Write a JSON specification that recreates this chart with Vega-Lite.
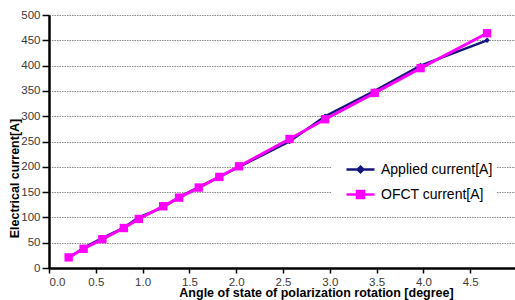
{
  "$schema": "https://vega.github.io/schema/vega-lite/v6.json",
  "width": 468,
  "height": 253,
  "autosize": {"type": "none"},
  "padding": {"left": 49, "top": 15, "right": 0, "bottom": 32},
  "background": "white",
  "config": {
    "font": "Liberation Sans",
    "view": {"stroke": null}
  },
  "data": {
    "values": [
      {"series": "Applied current[A]", "angle": 0.21, "current": 20},
      {"series": "Applied current[A]", "angle": 0.37, "current": 40},
      {"series": "Applied current[A]", "angle": 0.58, "current": 60},
      {"series": "Applied current[A]", "angle": 0.80, "current": 80},
      {"series": "Applied current[A]", "angle": 0.96, "current": 100},
      {"series": "Applied current[A]", "angle": 1.22, "current": 120},
      {"series": "Applied current[A]", "angle": 1.39, "current": 140},
      {"series": "Applied current[A]", "angle": 1.60, "current": 160},
      {"series": "Applied current[A]", "angle": 1.82, "current": 180},
      {"series": "Applied current[A]", "angle": 2.03, "current": 200},
      {"series": "Applied current[A]", "angle": 2.57, "current": 250},
      {"series": "Applied current[A]", "angle": 2.95, "current": 300},
      {"series": "Applied current[A]", "angle": 3.48, "current": 350},
      {"series": "Applied current[A]", "angle": 3.97, "current": 400},
      {"series": "Applied current[A]", "angle": 4.68, "current": 450},
      {"series": "OFCT current[A]", "angle": 0.21, "current": 21},
      {"series": "OFCT current[A]", "angle": 0.37, "current": 38},
      {"series": "OFCT current[A]", "angle": 0.57, "current": 57},
      {"series": "OFCT current[A]", "angle": 0.80, "current": 79},
      {"series": "OFCT current[A]", "angle": 0.96, "current": 97},
      {"series": "OFCT current[A]", "angle": 1.22, "current": 122},
      {"series": "OFCT current[A]", "angle": 1.39, "current": 139},
      {"series": "OFCT current[A]", "angle": 1.60, "current": 159},
      {"series": "OFCT current[A]", "angle": 1.82, "current": 180},
      {"series": "OFCT current[A]", "angle": 2.03, "current": 201},
      {"series": "OFCT current[A]", "angle": 2.57, "current": 255},
      {"series": "OFCT current[A]", "angle": 2.95, "current": 294},
      {"series": "OFCT current[A]", "angle": 3.48, "current": 346},
      {"series": "OFCT current[A]", "angle": 3.97, "current": 395},
      {"series": "OFCT current[A]", "angle": 4.68, "current": 464}
    ]
  },
  "encoding": {
    "x": {
      "field": "angle", "type": "quantitative",
      "scale": {"domain": [0, 5], "nice": false, "zero": false},
      "axis": {
        "title": "Angle of state of polarization rotation [degree]",
        "values": [0, 0.5, 1, 1.5, 2, 2.5, 3, 3.5, 4, 4.5],
        "grid": false,
        "domainColor": "black", "domainWidth": 2.5,
        "tickColor": "black", "tickWidth": 1.5, "tickSize": 5,
        "labelFontSize": 11.5, "labelColor": "#3a3a3a", "labelPadding": 3,
        "titleFontSize": 12.5, "titleFontWeight": "bold", "titleColor": "black",
        "titleX": 267, "titleY": 28, "titleAlign": "center", "titleBaseline": "alphabetic"
      }
    },
    "y": {
      "field": "current", "type": "quantitative",
      "scale": {"domain": [0, 500], "nice": false},
      "axis": {
        "title": "Electrical current[A]",
        "values": [0, 50, 100, 150, 200, 250, 300, 350, 400, 450, 500],
        "grid": true, "gridColor": "#8a8a8a", "gridDash": [1.5, 1], "gridWidth": 1,
        "domainColor": "black", "domainWidth": 2.5,
        "tickColor": "black", "tickWidth": 1.5, "tickSize": 7,
        "labelFontSize": 11.5, "labelColor": "#3a3a3a", "labelPadding": 2,
        "titleFontSize": 12.5, "titleFontWeight": "bold", "titleColor": "black",
        "titleX": -35, "titleY": 163, "titleAngle": -90, "titleAlign": "center", "titleBaseline": "middle"
      }
    },
    "color": {
      "field": "series", "type": "nominal",
      "scale": {"domain": ["Applied current[A]", "OFCT current[A]"], "range": ["#14147e", "#ff00ff"]},
      "legend": {
        "title": null,
        "orient": "none",
        "legendX": 283,
        "legendY": 135,
        "padding": 4,
        "fillColor": "white",
        "symbolOffset": 9,
        "symbolSize": 784,
        "symbolStrokeWidth": 2.5,
        "symbolType": "M-1,0H1M-0.25,-0.25H0.25V0.25H-0.25Z",
        "labelFontSize": 14,
        "labelColor": "black",
        "labelOffset": 5,
        "rowPadding": 1,
        "encode": {
          "symbols": {
            "update": {
              "shape": {"signal": "datum.value === 'Applied current[A]' ? 'M-1,0H1M0,-0.2L0.2,0L0,0.2L-0.2,0Z' : 'M-1,0H1M-0.25,-0.25H0.25V0.25H-0.25Z'"},
              "fill": {"signal": "scale('color', datum.value)"},
              "stroke": {"signal": "scale('color', datum.value)"},
              "strokeWidth": {"value": 2.5},
              "opacity": {"value": 1}
            }
          }
        }
      }
    }
  },
  "layer": [
    {
      "transform": [{"filter": "datum.series === 'Applied current[A]'"}],
      "mark": {"type": "line", "strokeWidth": 2.5}
    },
    {
      "transform": [{"filter": "datum.series === 'Applied current[A]'"}],
      "mark": {"type": "point", "shape": "diamond", "filled": true, "size": 30, "opacity": 1}
    },
    {
      "transform": [{"filter": "datum.series === 'OFCT current[A]'"}],
      "mark": {"type": "line", "strokeWidth": 3}
    },
    {
      "transform": [{"filter": "datum.series === 'OFCT current[A]'"}],
      "mark": {"type": "point", "shape": "square", "filled": true, "size": 70, "opacity": 1}
    }
  ]
}
